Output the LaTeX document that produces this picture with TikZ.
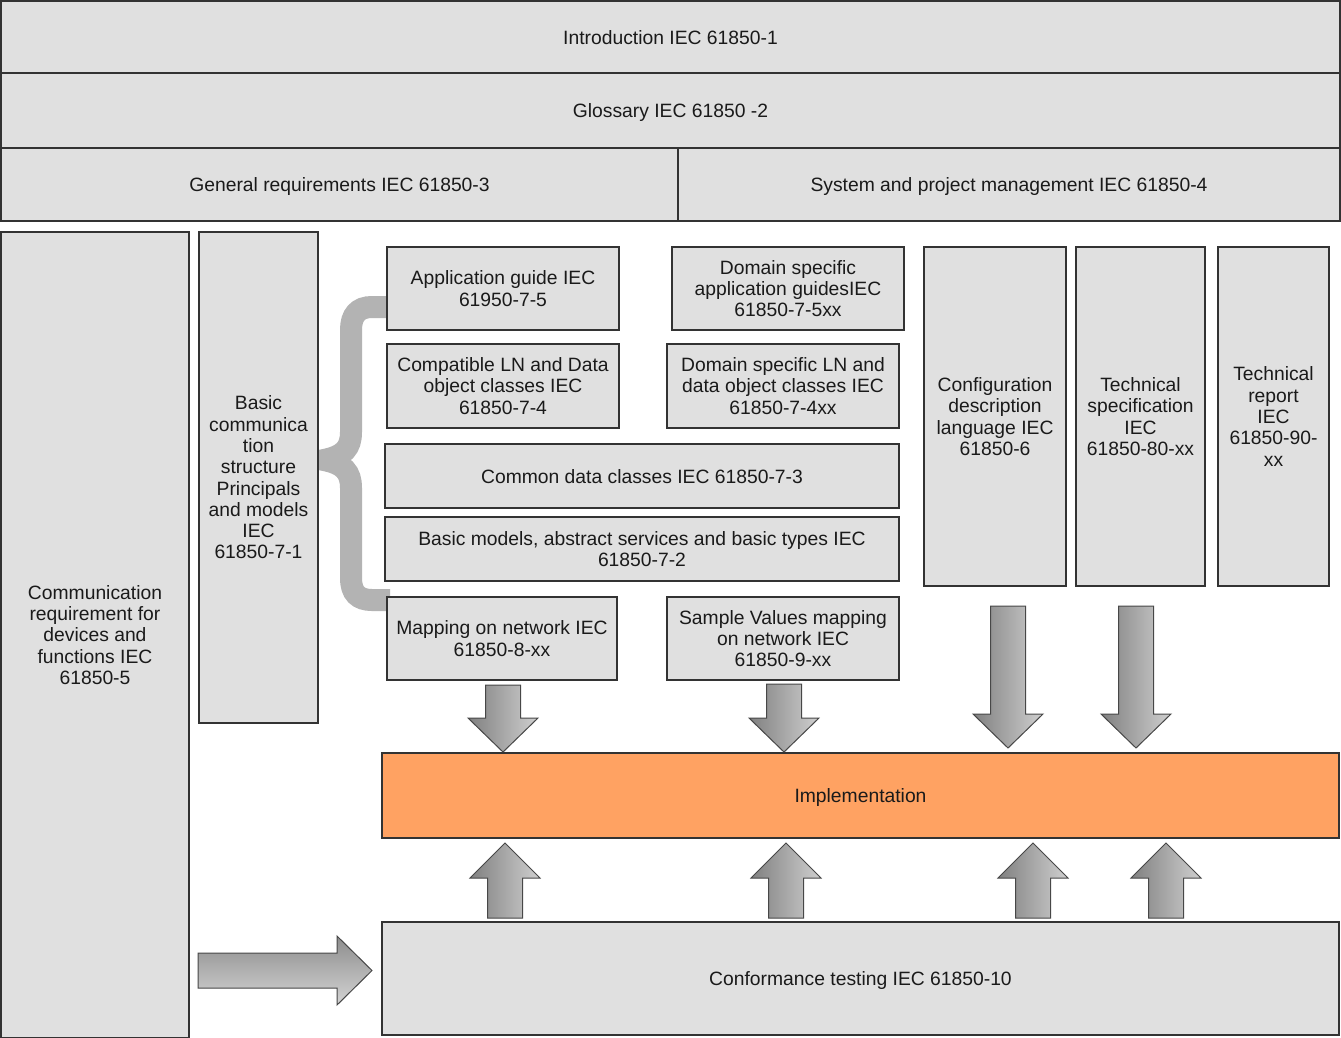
\documentclass[tikz,border=0pt]{standalone}
\usepackage{fontspec}
\setmainfont{Liberation Sans}
\definecolor{boxfill}{HTML}{E0E0E0}
\definecolor{boxline}{HTML}{333333}
\definecolor{txt}{HTML}{1A1A1A}
\definecolor{implfill}{HTML}{FFA262}
\definecolor{bracecol}{HTML}{B3B3B3}
\definecolor{arrdark}{HTML}{808080}
\definecolor{arrlight}{HTML}{CFCFCF}
\newcommand\arrdown[3]{\path[blockv] (#1-17.5,#2) -- (#1+17.5,#2) -- (#1+17.5,#3-34) -- (#1+35,#3-34) -- (#1,#3) -- (#1-35,#3-34) -- (#1-17.5,#3-34) -- cycle;}
\newcommand\arrup[3]{\path[blockv] (#1-17.5,#2) -- (#1+17.5,#2) -- (#1+17.5,#3+35) -- (#1+35,#3+35) -- (#1,#3) -- (#1-35,#3+35) -- (#1-17.5,#3+35) -- cycle;}
\begin{document}
\begin{tikzpicture}[x=1pt,y=-1pt,
  box/.style={draw=boxline, fill=boxfill, line width=1.3pt, inner sep=0pt, align=center,
    font=\fontsize{19.3}{21.3}\selectfont, text=txt},
  one/.style={text depth=0pt, text height=14pt},
  blockv/.style={draw=boxline!90, line width=1pt, line join=miter, left color=arrdark, right color=arrlight},
  blockh/.style={draw=boxline!90, line width=1pt, line join=miter, top color=arrdark!90, bottom color=arrlight!90}]
\useasboundingbox (0,0) rectangle (1341,1037);
% brace
\draw[bracecol, line width=22pt, line join=miter]
  (390,307) -- (372,307) .. controls (358,307) and (351,315) .. (351,330)
  -- (351,432) .. controls (351,448) and (344,456) .. (324,460)
  .. controls (344,464) and (351,472) .. (351,488)
  -- (351,578) .. controls (351,593) and (358,600) .. (372,600) -- (390,600);
% boxes
\node[box, one, minimum width=1339pt, minimum height=72pt] (intro) at (670.5,37) {Introduction IEC 61850-1};
\node[box, one, minimum width=1339pt, minimum height=75pt] (gloss) at (670.5,110.5) {Glossary IEC 61850 -2};
\node[box, one, minimum width=677pt, minimum height=73pt] (genreq) at (339.5,184.5) {General requirements IEC 61850-3};
\node[box, one, minimum width=662pt, minimum height=73pt] (sysmgmt) at (1009,184.5) {System and project management IEC 61850-4};
\node[box, minimum width=188pt, minimum height=806pt] (commreq) at (95,635) {Communication\\requirement for\\devices and\\functions IEC\\61850-5};
\node[box, minimum width=119pt, minimum height=491pt] (basic) at (258.5,477.5) {Basic\\communica\\tion\\structure\\Principals\\and models\\IEC\\61850-7-1};
\node[box, minimum width=232pt, minimum height=83pt] (appguide) at (503,288.5) {Application guide IEC\\61950-7-5};
\node[box, minimum width=232pt, minimum height=83pt] (domapp) at (788,288.5) {Domain specific\\application guidesIEC\\61850-7-5xx};
\node[box, minimum width=232pt, minimum height=84pt] (compat) at (503,386) {Compatible LN and Data\\object classes IEC\\61850-7-4};
\node[box, minimum width=232pt, minimum height=84pt] (domln) at (783,386) {Domain specific LN and\\data object classes IEC\\61850-7-4xx};
\node[box, one, minimum width=514pt, minimum height=64pt] (cdc) at (642,476) {Common data classes IEC 61850-7-3};
\node[box, minimum width=514pt, minimum height=64pt] (bmodels) at (642,549) {Basic models, abstract services and basic types IEC\\61850-7-2};
\node[box, minimum width=230pt, minimum height=83pt] (mapping) at (502,638.5) {Mapping on network IEC\\61850-8-xx};
\node[box, minimum width=232pt, minimum height=83pt] (sv) at (783,638.5) {Sample Values mapping\\on network IEC\\61850-9-xx};
\node[box, minimum width=142pt, minimum height=339pt] (scl) at (995,416.5) {Configuration\\description\\language IEC\\61850-6};
\node[box, minimum width=129pt, minimum height=339pt] (ts) at (1140.5,416.5) {Technical\\specification\\IEC\\61850-80-xx};
\node[box, minimum width=111pt, minimum height=339pt] (tr) at (1273.5,416.5) {Technical\\report\\IEC\\61850-90-\\xx};
\node[box, one, fill=implfill, minimum width=957pt, minimum height=85pt] (impl) at (860.5,795.5) {Implementation};
\node[box, one, minimum width=957pt, minimum height=113pt] (conf) at (860.5,978.5) {Conformance testing IEC 61850-10};
% block arrows
\arrdown{503}{685}{752}
\arrdown{784}{684}{752}
\arrdown{1008}{606}{748}
\arrdown{1136}{606}{748}
\arrup{505}{918}{843}
\arrup{786}{918}{843}
\arrup{1033}{918}{843}
\arrup{1166}{918}{843}
\path[blockh] (198,953) -- (337,953) -- (337,936) -- (372,970.5) -- (337,1005) -- (337,988) -- (198,988) -- cycle;
\end{tikzpicture}
\end{document}
